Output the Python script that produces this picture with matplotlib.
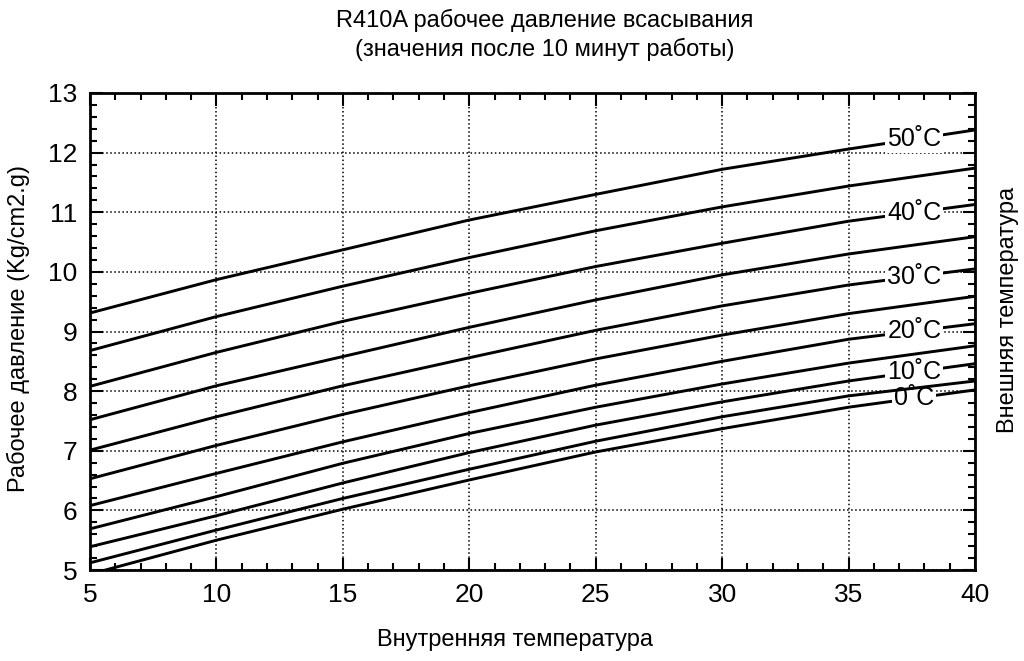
import numpy as np
import matplotlib
matplotlib.use('Agg')
import matplotlib.pyplot as plt
from matplotlib.ticker import MultipleLocator

plt.rcParams['font.family'] = ['Liberation Sans', 'DejaVu Sans']

# indoor temperature (x) and suction pressure for each outdoor temperature
indoor = [5, 10, 15, 20, 25, 30, 35, 40]
p50 = [9.31, 9.87, 10.37, 10.87, 11.30, 11.72, 12.06, 12.38]
p45 = [8.68, 9.25, 9.76, 10.24, 10.69, 11.09, 11.44, 11.74]
p40 = [8.08, 8.65, 9.17, 9.64, 10.09, 10.48, 10.85, 11.13]
p35 = [7.52, 8.09, 8.58, 9.07, 9.53, 9.95, 10.30, 10.59]
p30 = [7.01, 7.57, 8.09, 8.56, 9.02, 9.43, 9.78, 10.05]
p25 = [6.53, 7.09, 7.61, 8.09, 8.54, 8.94, 9.30, 9.59]
p20 = [6.08, 6.62, 7.15, 7.64, 8.10, 8.50, 8.87, 9.13]
p15 = [5.69, 6.23, 6.79, 7.29, 7.73, 8.12, 8.47, 8.76]
p10 = [5.39, 5.91, 6.46, 6.97, 7.43, 7.82, 8.17, 8.46]
p5 = [5.12, 5.67, 6.20, 6.69, 7.16, 7.57, 7.92, 8.17]
p0 = [4.93, 5.50, 6.02, 6.51, 6.98, 7.37, 7.73, 8.02]

labelled = {'50˚C': p50, '40˚C': p40, '30˚C': p30, '20˚C': p20, '10˚C': p10, '0˚C': p0}
others = [p45, p35, p25, p15, p5]
label_x = 37.6

fig = plt.figure(figsize=(10.24, 6.61), dpi=100)
ax = fig.add_axes([90/1024, 1-570/661, 885/1024, 477/661])

for name, vals in labelled.items():
	ax.plot(indoor, vals, color='black', lw=2.1, zorder=2)
	ly = np.interp(label_x, indoor, vals)
	ax.text(label_x, ly, name, fontsize=18, ha='center', va='center', zorder=3,
		bbox=dict(facecolor='white', edgecolor='none', pad=1.5))
for vals in others:
	ax.plot(indoor, vals, color='black', lw=2.1, zorder=4)

ax.set_xlim(5, 40)
ax.set_ylim(5, 13)
ax.xaxis.set_major_locator(MultipleLocator(5))
ax.xaxis.set_minor_locator(MultipleLocator(1))
ax.yaxis.set_major_locator(MultipleLocator(1))
ax.yaxis.set_minor_locator(MultipleLocator(0.2))
ax.tick_params(which='both', direction='in', top=True, right=True, labelsize=19, width=1.5)
ax.tick_params(which='major', length=9, pad=9)
ax.tick_params(which='minor', length=5)
ax.grid(True, which='major', linestyle=':', color='black', lw=1.1, zorder=1)
for s in ax.spines.values():
	s.set_linewidth(2)

fig.text(545/1024, 1-20/661, 'R410A рабочее давление всасывания', fontsize=17, ha='center', va='center')
fig.text(545/1024, 1-49/661, '(значения после 10 минут работы)', fontsize=17, ha='center', va='center')
fig.text(515/1024, 1-640/661, 'Внутренняя температура', fontsize=17, ha='center', va='center')
fig.text(18/1024, 1-328/661, 'Рабочее давление (Kg/cm2.g)', fontsize=17, ha='center', va='center', rotation=90)
fig.text(1008/1024, 1-310/661, 'Внешняя температура', fontsize=17, ha='center', va='center', rotation=90)

plt.savefig('out.png', dpi=100)
